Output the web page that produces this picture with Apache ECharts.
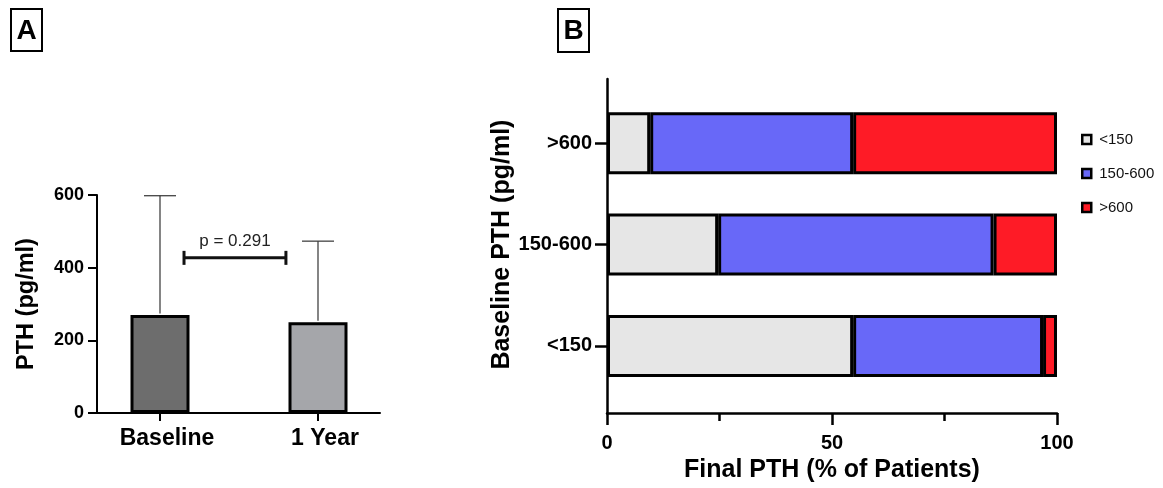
<!DOCTYPE html>
<html>
<head>
<meta charset="utf-8">
<script src="https://cdn.jsdelivr.net/npm/echarts@6/dist/echarts.min.js"></script>
<style>
html,body{margin:0;padding:0;background:#fff;}
#chart{width:1163px;height:488px;}
</style>
</head>
<body>
<div id="chart"></div>
<script>
// ---------- Panel A data ----------
const timeCategories = ['Baseline', '1 Year'];
const pthMean = [270, 250];
const pthUpperError = [598, 473];
const pValueLabel = 'p = 0.291';
const pBracketLevel = 427;
const yTicksA = [0, 200, 400, 600];

// ---------- Panel B data ----------
const baselineGroups = ['<150', '150-600', '>600'];
const finalBelow150 = [54.7, 24.7, 9.6];
const final150to600 = [42.2, 61.2, 45.1];
const finalAbove600 = [3.1, 14.1, 45.3];
const finalSeriesNames = ['<150', '150-600', '>600'];
const xTicksB = [0, 50, 100];

const FONT = '"Liberation Sans", Arial, Helvetica, sans-serif';
const chart = echarts.init(document.getElementById('chart'), null, {renderer: 'canvas'});

const barColorsA = ['#6d6d6d', '#a5a6aa'];
const segColors = ['#e6e6e6', '#6868f8', '#fe1b26'];

function boxLabel(letter, x, y, w, h) {
  return {
    type: 'group', left: x, top: y,
    children: [
      {type: 'rect', shape: {x: 0, y: 0, width: w, height: h}, style: {fill: '#fff', stroke: '#000', lineWidth: 2}},
      {type: 'text', x: w / 2, y: h / 2 + 1, style: {text: letter, fontFamily: FONT, fontSize: 28, fontWeight: 'bold', fill: '#000', align: 'center', verticalAlign: 'middle'}}
    ]
  };
}

const option = {
  animation: false,
  backgroundColor: '#fff',
  textStyle: {fontFamily: FONT},
  graphic: [boxLabel('A', 10, 8, 31, 42), boxLabel('B', 557, 8, 31, 43)],
  legend: {
    data: finalSeriesNames,
    orient: 'vertical',
    left: 1076, top: 127,
    icon: 'rect',
    itemWidth: 9, itemHeight: 9,
    itemGap: 19,
    itemStyle: {borderColor: '#000', borderWidth: 2.5},
    textStyle: {fontFamily: FONT, fontSize: 15, color: '#111', padding: [0, 0, 0, 3]}
  },
  grid: [
    {left: 81, top: 195, width: 316, height: 218, containLabel: false},   // A bars
    {left: 97, top: 195, width: 283, height: 218, containLabel: false},   // A x-axis line
    {left: 607, top: 92.6, width: 450, height: 304, containLabel: false}, // B bars
    {left: 607, top: 79, width: 450, height: 334, containLabel: false}    // B axes
  ],
  xAxis: [
    {
      gridIndex: 0, type: 'category', data: timeCategories,
      axisLine: {show: false},
      axisTick: {show: true, alignWithLabel: true, length: 8, lineStyle: {color: '#000', width: 2}},
      axisLabel: {fontFamily: FONT, fontSize: 23, fontWeight: 'bold', color: '#000', margin: 14, padding: [0, 0, 0, 14]}
    },
    {
      gridIndex: 1, type: 'value', min: 0, max: 1,
      axisLine: {show: true, onZero: false, lineStyle: {color: '#000', width: 2}},
      axisTick: {show: false}, axisLabel: {show: false}, splitLine: {show: false}
    },
    {
      gridIndex: 2, type: 'value', min: 0, max: 100, show: false
    },
    {
      gridIndex: 3, type: 'value', min: xTicksB[0], max: xTicksB[xTicksB.length - 1], interval: xTicksB[1] - xTicksB[0],
      axisLine: {show: true, onZero: false, lineStyle: {color: '#000', width: 2.5}},
      axisTick: {show: true, length: 12, lineStyle: {color: '#000', width: 2.5}},
      minorTick: {show: true, splitNumber: 2, length: 8, lineStyle: {color: '#000', width: 2.5}},
      axisLabel: {fontFamily: FONT, fontSize: 20, fontWeight: 'bold', color: '#000', margin: 20},
      splitLine: {show: false}, minorSplitLine: {show: false},
      name: 'Final PTH (% of Patients)', nameLocation: 'middle', nameGap: 44,
      nameTextStyle: {fontFamily: FONT, fontSize: 25, fontWeight: 'bold', color: '#000'}
    }
  ],
  yAxis: [
    {
      gridIndex: 0, type: 'value', min: yTicksA[0], max: yTicksA[yTicksA.length - 1], interval: yTicksA[1] - yTicksA[0],
      offset: -16,
      axisLine: {show: true, lineStyle: {color: '#000', width: 2}},
      axisTick: {show: true, length: 9, lineStyle: {color: '#000', width: 2}},
      axisLabel: {fontFamily: FONT, fontSize: 18, fontWeight: 'bold', color: '#000', margin: 13},
      splitLine: {show: false},
      name: 'PTH (pg/ml)', nameLocation: 'middle', nameRotate: 90, nameGap: 58,
      nameTextStyle: {fontFamily: FONT, fontSize: 23.5, fontWeight: 'bold', color: '#000'}
    },
    {gridIndex: 1, type: 'value', min: 0, max: 600, show: false},
    {
      gridIndex: 2, type: 'category', data: baselineGroups,
      axisLine: {show: false},
      axisTick: {show: true, alignWithLabel: true, length: 12, lineStyle: {color: '#000', width: 2.5}},
      axisLabel: {fontFamily: FONT, fontSize: 20, fontWeight: 'bold', color: '#000', margin: 15},
      name: 'Baseline PTH (pg/ml)', nameLocation: 'middle', nameRotate: 90, nameGap: 90,
      nameTextStyle: {fontFamily: FONT, fontSize: 25, fontWeight: 'bold', color: '#000'}
    },
    {
      gridIndex: 3, type: 'value', min: 0, max: 1,
      axisLine: {show: true, onZero: false, lineStyle: {color: '#000', width: 2.5}},
      axisTick: {show: false}, axisLabel: {show: false}, splitLine: {show: false}
    }
  ],
  series: [
    {
      type: 'bar', xAxisIndex: 0, yAxisIndex: 0,
      data: pthMean.map((v, i) => ({value: v, itemStyle: {color: barColorsA[i]}})),
      barWidth: 59,
      itemStyle: {borderColor: '#000', borderWidth: 3},
      z: 2
    },
    {
      type: 'custom', xAxisIndex: 0, yAxisIndex: 0,
      data: pthMean.map((v, i) => [i, v, pthUpperError[i]]),
      encode: {x: 0, y: [1, 2]},
      z: 3,
      renderItem: function (params, api) {
        const base = api.coord([api.value(0), api.value(1)]);
        const top = api.coord([api.value(0), api.value(2)]);
        const half = 16;
        const st = {stroke: '#333', lineWidth: 1.2};
        return {type: 'group', children: [
          {type: 'line', shape: {x1: base[0], y1: base[1] - 1.5, x2: top[0], y2: top[1]}, style: st},
          {type: 'line', shape: {x1: top[0] - half, y1: top[1], x2: top[0] + half, y2: top[1]}, style: st}
        ]};
      }
    },
    {
      type: 'custom', xAxisIndex: 0, yAxisIndex: 0,
      data: [[0, pBracketLevel, 1]],
      encode: {x: 0, y: 1},
      z: 3,
      renderItem: function (params, api) {
        const a = api.coord([api.value(0), api.value(1)]);
        const b = api.coord([api.value(2), api.value(1)]);
        const band = api.size([1, 0])[0];
        const x1 = a[0] + 0.152 * band, x2 = b[0] - 0.203 * band, y = a[1];
        const st = {stroke: '#111', lineWidth: 3};
        return {type: 'group', children: [
          {type: 'line', shape: {x1: x1, y1: y, x2: x2, y2: y}, style: st},
          {type: 'line', shape: {x1: x1, y1: y - 7, x2: x1, y2: y + 7}, style: st},
          {type: 'line', shape: {x1: x2, y1: y - 7, x2: x2, y2: y + 7}, style: st},
          {type: 'text', x: (x1 + x2) / 2, y: y - 17, style: {text: pValueLabel, fontFamily: FONT, fontSize: 17, fill: '#222', align: 'center', verticalAlign: 'middle'}}
        ]};
      }
    },
    {
      name: finalSeriesNames[0], type: 'bar', stack: 'final', xAxisIndex: 2, yAxisIndex: 2,
      data: finalBelow150, barWidth: 62,
      itemStyle: {color: segColors[0], borderColor: '#000', borderWidth: 3}
    },
    {
      name: finalSeriesNames[1], type: 'bar', stack: 'final', xAxisIndex: 2, yAxisIndex: 2,
      data: final150to600, barWidth: 62,
      itemStyle: {color: segColors[1], borderColor: '#000', borderWidth: 3}
    },
    {
      name: finalSeriesNames[2], type: 'bar', stack: 'final', xAxisIndex: 2, yAxisIndex: 2,
      data: finalAbove600, barWidth: 62,
      itemStyle: {color: segColors[2], borderColor: '#000', borderWidth: 3}
    }
  ]
};
chart.setOption(option);
</script>
</body>
</html>
